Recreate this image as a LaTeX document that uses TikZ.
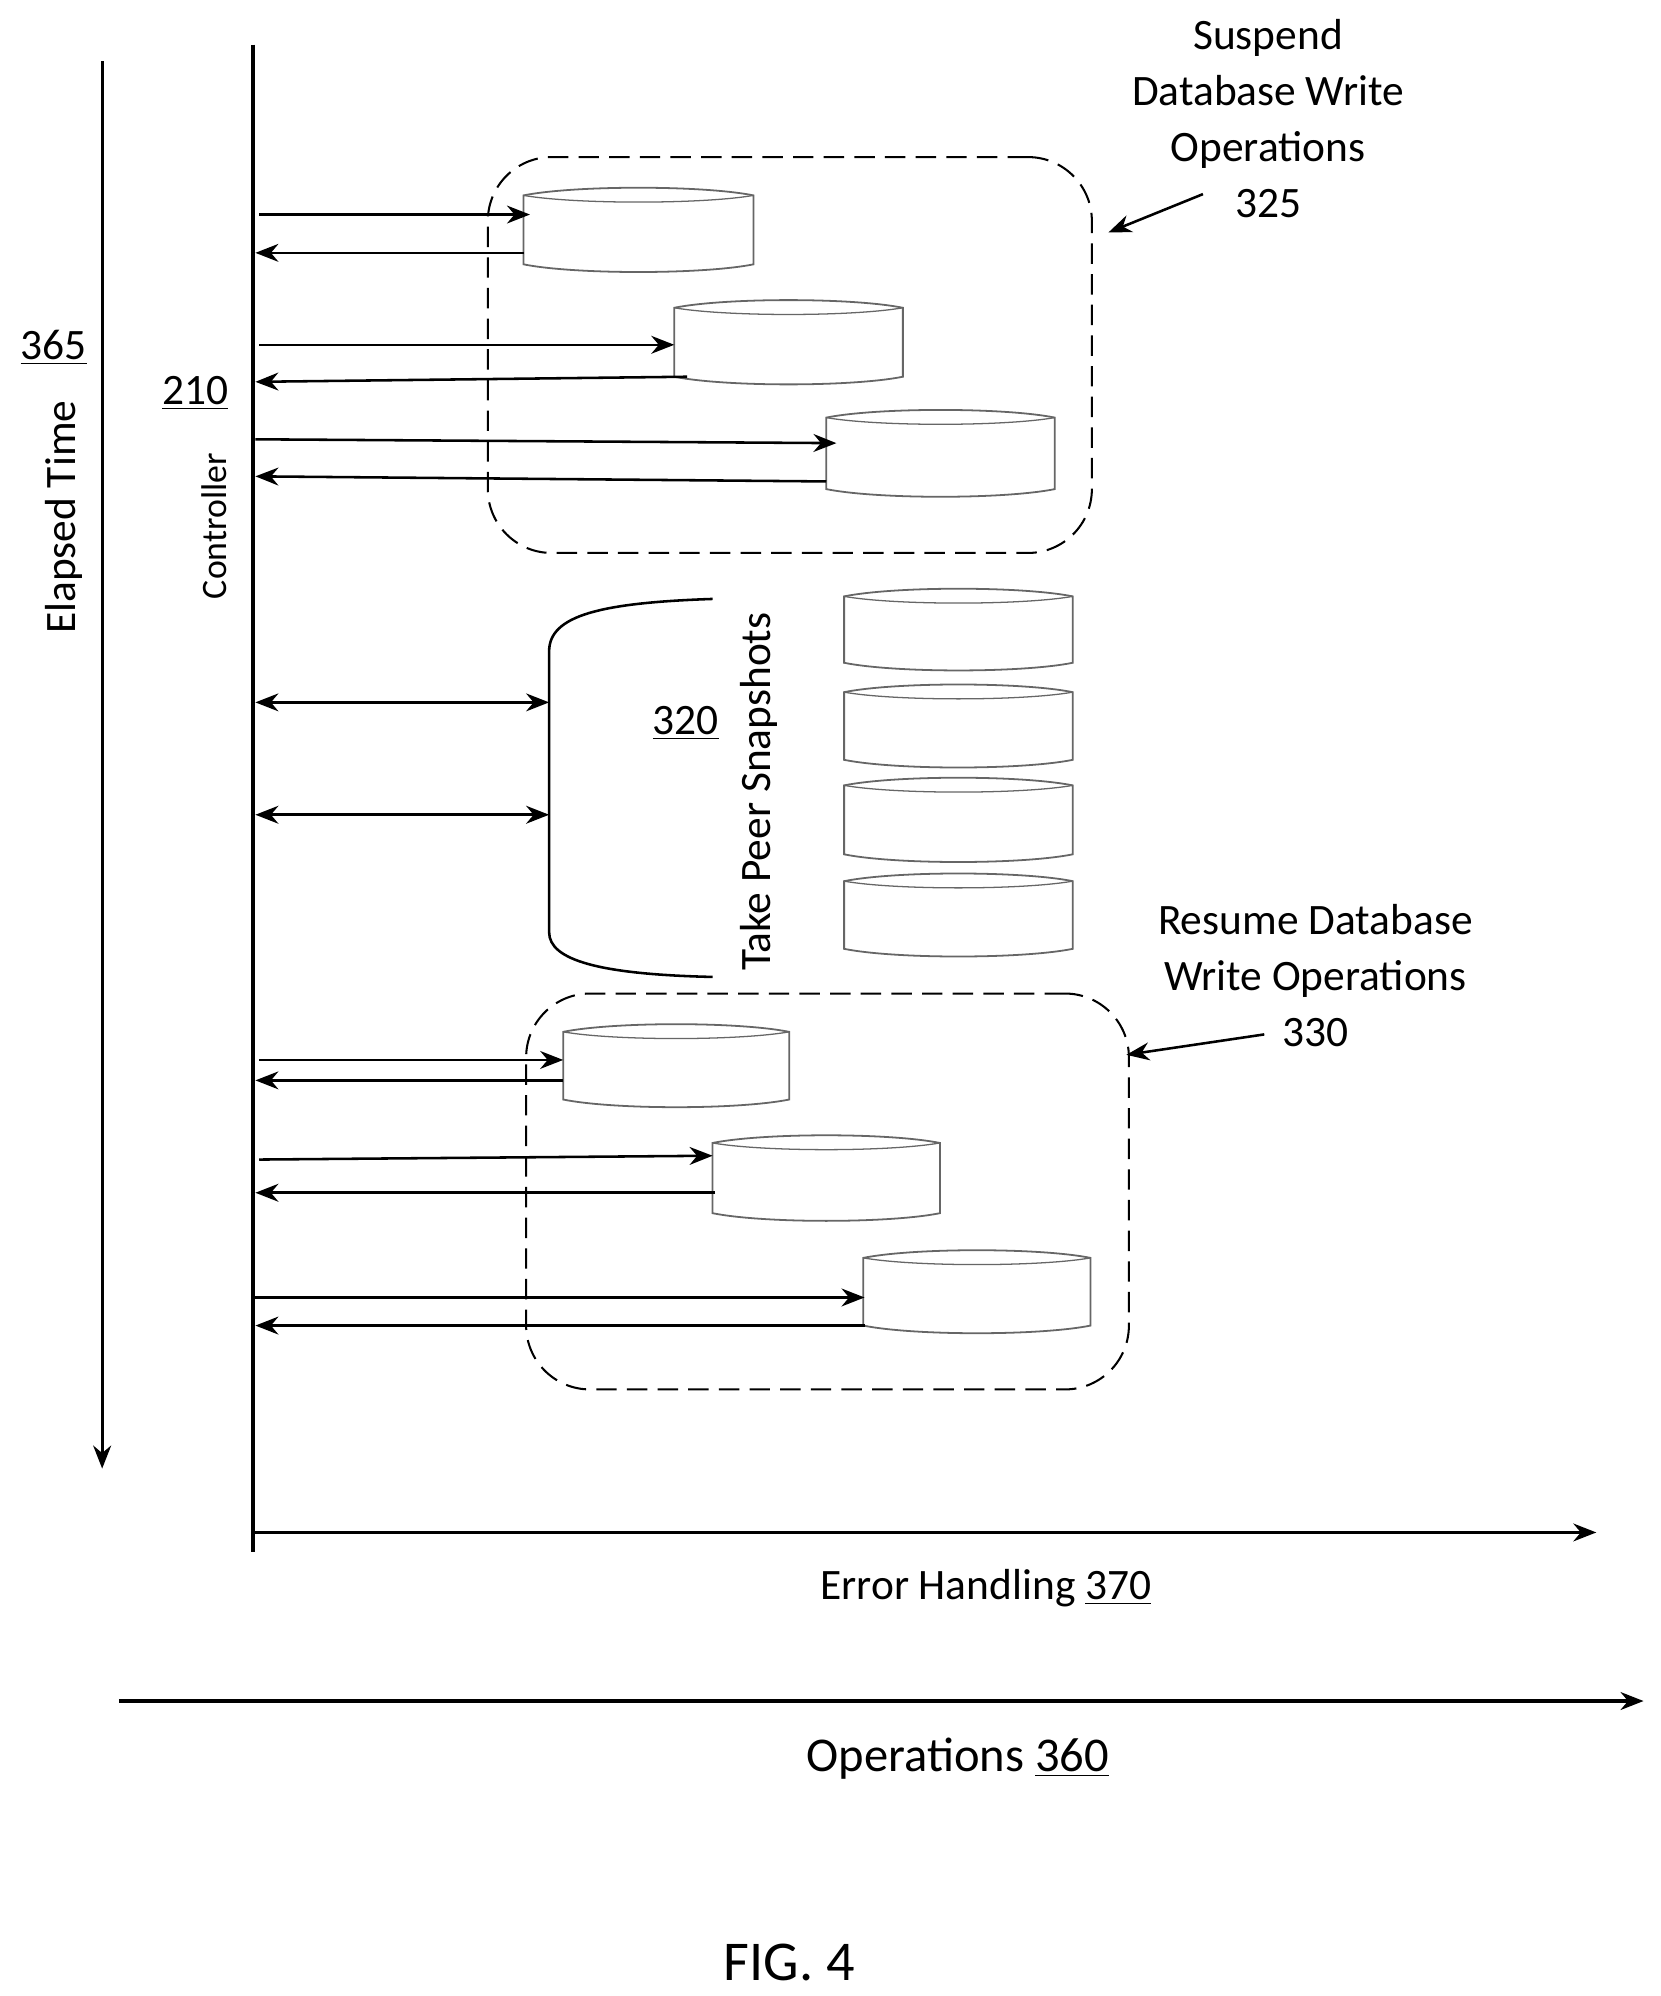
\documentclass[tikz,border=0pt]{standalone}
\usepackage{fontspec}
\setmainfont{Carlito}
\usetikzlibrary{arrows.meta}
\begin{document}
\begin{tikzpicture}[x=0.5pt,y=-0.5pt,
  ln/.style={line width=1.3pt},
  ar/.style={line width=1pt,-{Stealth[length=9pt,width=7pt]}},
  dar/.style={line width=1pt,{Stealth[length=9pt,width=7pt]}-{Stealth[length=9pt,width=7pt]}},
  dbox/.style={draw,dashed,dash pattern=on 8pt off 4pt,line width=0.8pt,rounded corners=25pt},
  cylo/.style={draw=gray!80!black,line width=0.7pt},
  lab/.style={font=\fontsize{17}{22}\selectfont,align=center},
  font=\fontsize{17}{22}\selectfont]
\useasboundingbox (0,0) rectangle (1300,1563);
\newcommand\cyl[5]{%
  \node[inner sep=0,minimum width={(#4-#2)*0.5pt},minimum height={(#5-#3)*0.5pt}] (#1) at ({(#2+#4)/2},{(#3+#5)/2}) {};
  \draw[cylo,fill=white] (#2,#3+5) .. controls ({#2+40},#3-3) and ({#4-40},#3-3) .. (#4,#3+5)
     -- (#4,#5-5) .. controls ({#4-40},#5+3) and ({#2+40},#5+3) .. (#2,#5-5) -- cycle;
  \draw[cylo,line width=0.5pt] (#2,#3+5) .. controls ({#2+40},#3+12) and ({#4-40},#3+12) .. (#4,#3+5);}
% axes
\coordinate (et0) at (80,48); \coordinate (et1) at (80,1150);
\draw[ar,line width=1.3pt] (et0) -- (et1);
\node[rotate=90] (etl) at (50,405) {Elapsed Time};
\node (n365) at (42,272) {\underline{365}};
\coordinate (c0) at (198,35); \coordinate (c1) at (198,1215);
\draw[ln] (c0) -- (c1);
\node (n210) at (153,308) {\underline{210}};
\node[rotate=90,font=\fontsize{14}{17}\selectfont] (ctl) at (168,412) {Controller};
\coordinate (eh0) at (198,1200); \coordinate (eh1) at (1250,1200);
\draw[ar] (eh0) -- (eh1);
\node (ehl) at (772,1244) {Error Handling \underline{370}};
\coordinate (op0) at (93,1332); \coordinate (op1) at (1287,1332);
\draw[ar,line width=1.3pt] (op0) -- (op1);
\node[font=\fontsize{19}{22}\selectfont] (opl) at (750,1377) {Operations \underline{360}};
\node[font=\fontsize{22}{26}\selectfont] (fig) at (618,1537) {FIG. 4};
% box 1
\node[dbox,minimum width=236.5pt,minimum height=155pt] (b1) at (618.5,278) {};
\cyl{d1}{410}{148}{590}{212}
\cyl{d2}{528}{236}{707}{300}
\cyl{d3}{647}{322}{826}{388}
\coordinate (a1) at (203,168); \coordinate (a1e) at (415,168);
\draw[ar] (a1) -- (a1e);
\coordinate (a2) at (410,198); \coordinate (a2e) at (200,198);
\draw[ar] (a2) -- (a2e);
\coordinate (a3) at (203,270); \coordinate (a3e) at (528,270);
\draw[ar] (a3) -- (a3e);
\coordinate (a4) at (538,295); \coordinate (a4e) at (200,299);
\draw[ar] (a4) -- (a4e);
\coordinate (a5) at (200,344); \coordinate (a5e) at (655,347);
\draw[ar] (a5) -- (a5e);
\coordinate (a6) at (647,377); \coordinate (a6e) at (200,373);
\draw[ar] (a6) -- (a6e);
\node[lab] (sus) at (993,93) {Suspend\\Database Write\\Operations\\325};
\coordinate (s0) at (942,152); \coordinate (s1) at (868,182);
\draw[ar] (s0) -- (s1);
% snapshots
\draw[line width=1pt] (558,469) .. controls (470,472) and (430,482) .. (430,510) -- (430,730) .. controls (430,752) and (470,763) .. (558,765);
\coordinate (br1) at (430,550); \coordinate (br2) at (430,638);
\coordinate (cl1) at (200,550); \coordinate (cl2) at (200,638);
\draw[dar] (cl1) -- (br1);
\draw[dar] (cl2) -- (br2);
\node[rotate=90] (tps) at (594,620) {Take Peer Snapshots};
\node (n320) at (537,566) {\underline{320}};
\cyl{s1c}{661}{462}{840}{524}
\cyl{s2c}{661}{537}{840}{600}
\cyl{s3c}{661}{610}{840}{674}
\cyl{s4c}{661}{685}{840}{748}
% box 2
\node[dbox,minimum width=236pt,minimum height=155pt] (b2) at (648,933) {};
\cyl{e1}{441}{803}{618}{866}
\cyl{e2}{558}{890}{736}{955}
\cyl{e3}{676}{980}{854}{1043}
\coordinate (r1) at (203,830); \coordinate (r1e) at (441,830);
\draw[ar] (r1) -- (r1e);
\coordinate (r2) at (441,846); \coordinate (r2e) at (200,846);
\draw[ar] (r2) -- (r2e);
\coordinate (r3) at (203,908); \coordinate (r3e) at (558,905);
\draw[ar] (r3) -- (r3e);
\coordinate (r4) at (560,934); \coordinate (r4e) at (200,934);
\draw[ar] (r4) -- (r4e);
\coordinate (r5) at (200,1016); \coordinate (r5e) at (677,1016);
\draw[ar] (r5) -- (r5e);
\coordinate (r6) at (677,1038); \coordinate (r6e) at (200,1038);
\draw[ar] (r6) -- (r6e);
\node[lab] (res) at (1030,764) {Resume Database\\Write Operations\\330};
\coordinate (q0) at (990,810); \coordinate (q1) at (882,826);
\draw[ar] (q0) -- (q1);
\end{tikzpicture}
\end{document}
